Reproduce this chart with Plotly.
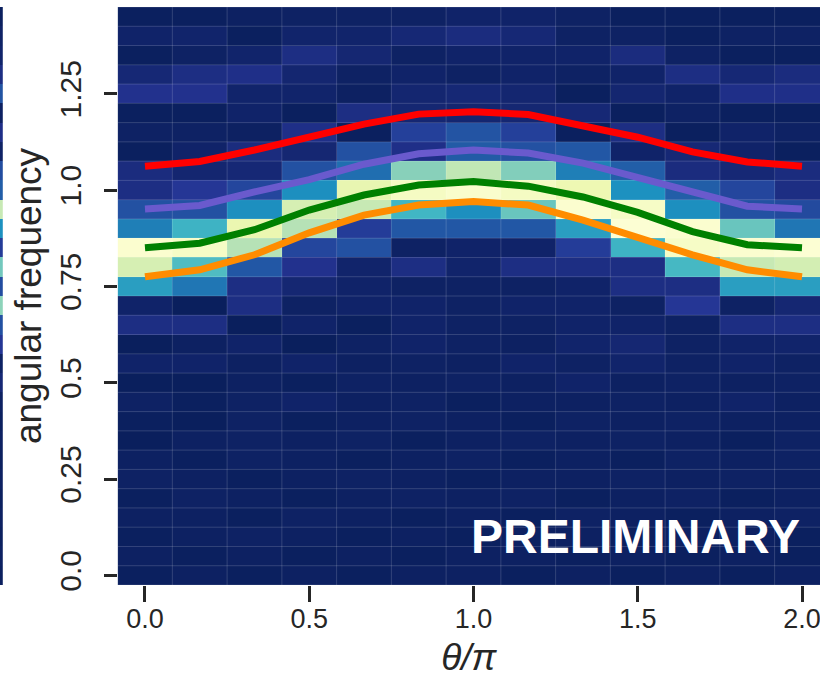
import plotly.graph_objects as go

# ---------------- data ----------------
theta = [k / 6 for k in range(13)]                 # theta/pi bin centres
freq = [round(0.05 * i, 2) for i in range(30)]    # angular frequency bin centres

# heat-map intensities (row = frequency bin, bottom -> top), 0..1
z_rows = [
    [0.015, 0.02, 0.015, 0.02, 0.015, 0.02, 0.02, 0.015, 0.02, 0.015, 0.02, 0.015, 0.02],   # 0.00
    [0.02, 0.015, 0.02, 0.015, 0.02, 0.015, 0.02, 0.02, 0.015, 0.02, 0.015, 0.02, 0.015],   # 0.05
    [0.015, 0.02, 0.025, 0.02, 0.015, 0.02, 0.015, 0.02, 0.02, 0.015, 0.02, 0.02, 0.015],   # 0.10
    [0.02, 0.02, 0.015, 0.025, 0.02, 0.015, 0.02, 0.015, 0.025, 0.02, 0.015, 0.02, 0.025],  # 0.15
    [0.015, 0.025, 0.02, 0.015, 0.02, 0.025, 0.02, 0.025, 0.015, 0.02, 0.025, 0.015, 0.02], # 0.20
    [0.025, 0.02, 0.015, 0.02, 0.025, 0.02, 0.015, 0.02, 0.02, 0.025, 0.02, 0.025, 0.02],  # 0.25
    [0.02, 0.015, 0.025, 0.02, 0.015, 0.02, 0.025, 0.015, 0.02, 0.015, 0.025, 0.02, 0.025], # 0.30
    [0.01, 0.02, 0.025, 0.02, 0.025, 0.015, 0.02, 0.025, 0.02, 0.025, 0.02, 0.015, 0.025],  # 0.35
    [0.015, 0.01, 0.025, 0.015, 0.02, 0.025, 0.02, 0.015, 0.025, 0.02, 0.025, 0.02, 0.02],  # 0.40
    [0.025, 0.015, 0.025, 0.035, 0.02, 0.025, 0.015, 0.02, 0.02, 0.025, 0.02, 0.035, 0.02], # 0.45
    [0.01, 0.01, 0.02, 0.015, 0.025, 0.02, 0.025, 0.02, 0.035, 0.02, 0.025, 0.02, 0.025],   # 0.50
    [0.035, 0.035, 0.02, 0.035, 0.02, 0.025, 0.02, 0.035, 0.025, 0.04, 0.025, 0.035, 0.025],# 0.55
    [0.01, 0.02, 0.035, 0.01, 0.025, 0.035, 0.025, 0.02, 0.04, 0.055, 0.025, 0.035, 0.04],  # 0.60
    [0.09, 0.09, 0.01, 0.035, 0.015, 0.035, 0.025, 0.025, 0.035, 0.035, 0.025, 0.09, 0.09], # 0.65
    [0.035, 0.01, 0.09, 0.025, 0.035, 0.035, 0.025, 0.035, 0.035, 0.025, 0.13, 0.025, 0.055],# 0.70
    [0.42, 0.31, 0.09, 0.055, 0.035, 0.025, 0.025, 0.025, 0.035, 0.09, 0.09, 0.42, 0.42],   # 0.75
    [0.80, 0.53, 0.23, 0.11, 0.04, 0.09, 0.04, 0.09, 0.09, 0.09, 0.51, 0.75, 0.79],         # 0.80
    [0.97, 0.94, 0.72, 0.18, 0.21, 0.025, 0.035, 0.035, 0.15, 0.49, 0.94, 0.97, 0.98],      # 0.85
    [0.33, 0.49, 0.87, 0.72, 0.15, 0.23, 0.23, 0.23, 0.42, 0.98, 0.97, 0.58, 0.31],         # 0.90
    [0.21, 0.21, 0.37, 0.80, 0.75, 0.50, 0.37, 0.58, 0.97, 0.94, 0.37, 0.21, 0.19],         # 0.95
    [0.09, 0.13, 0.18, 0.37, 0.86, 0.93, 0.96, 0.93, 0.88, 0.375, 0.25, 0.18, 0.09],        # 1.00
    [0.08, 0.05, 0.06, 0.21, 0.29, 0.64, 0.74, 0.63, 0.33, 0.25, 0.08, 0.06, 0.08],         # 1.05
    [0.015, 0.035, 0.08, 0.055, 0.21, 0.10, 0.24, 0.21, 0.23, 0.035, 0.06, 0.035, 0.015],   # 1.10
    [0.025, 0.025, 0.02, 0.10, 0.015, 0.16, 0.22, 0.16, 0.015, 0.09, 0.015, 0.035, 0.025],  # 1.15
    [0.015, 0.015, 0.035, 0.015, 0.09, 0.055, 0.05, 0.055, 0.06, 0.015, 0.025, 0.015, 0.015],# 1.20
    [0.11, 0.11, 0.04, 0.04, 0.02, 0.05, 0.06, 0.05, 0.015, 0.05, 0.035, 0.10, 0.10],       # 1.25
    [0.06, 0.09, 0.10, 0.05, 0.025, 0.035, 0.025, 0.035, 0.025, 0.035, 0.09, 0.06, 0.08],   # 1.30
    [0.015, 0.025, 0.04, 0.09, 0.055, 0.025, 0.035, 0.035, 0.035, 0.08, 0.025, 0.015, 0.015],# 1.35
    [0.035, 0.04, 0.015, 0.04, 0.04, 0.06, 0.08, 0.06, 0.025, 0.025, 0.015, 0.025, 0.025],  # 1.40
    [0.015, 0.015, 0.02, 0.025, 0.025, 0.025, 0.035, 0.035, 0.025, 0.015, 0.015, 0.015, 0.015],# 1.45
]

# edge of the neighbouring panel (one column visible), bottom -> top
strip_vals = [0.015, 0.02, 0.015, 0.02, 0.015, 0.02, 0.015, 0.02, 0.015, 0.02,
              0.06, 0.025, 0.13, 0.21, 0.65, 0.2, 0.6, 0.15, 0.375, 0.75,
              0.25, 0.2, 0.03, 0.1, 0.02, 0.22, 0.09, 0.04, 0.03, 0.015]

# dispersion curves
red_curve = [1.062, 1.074, 1.104, 1.139, 1.171, 1.197, 1.203, 1.196, 1.168, 1.137, 1.099, 1.073, 1.062]
purple_curve = [0.951, 0.960, 0.995, 1.027, 1.067, 1.094, 1.104, 1.096, 1.070, 1.034, 0.994, 0.958, 0.951]
green_curve = [0.850, 0.862, 0.897, 0.948, 0.987, 1.013, 1.022, 1.010, 0.982, 0.942, 0.892, 0.858, 0.850]
orange_curve = [0.775, 0.793, 0.832, 0.889, 0.935, 0.961, 0.970, 0.961, 0.922, 0.876, 0.832, 0.793, 0.775]

x_tickvals = [0, 0.5, 1.0, 1.5, 2.0]
x_ticktext = ["0.0", "0.5", "1.0", "1.5", "2.0"]
y_tickvals = [0, 0.25, 0.5, 0.75, 1.0, 1.25]
y_ticktext = ["0.0", "0.25", "0.5", "0.75", "1.0", "1.25"]

# ---------------- styling ----------------
W, H = 820, 678
YLGNBU_R = [[0.0, "#081d58"], [0.125, "#253494"], [0.25, "#225ea8"], [0.375, "#1d91c0"],
            [0.5, "#41b6c4"], [0.625, "#7fcdbb"], [0.75, "#c7e9b4"], [0.875, "#edf8b1"],
            [1.0, "#ffffd9"]]
TXT = "#262626"
FONT = "Liberation Sans, Arial, sans-serif"

dx = theta[1] - theta[0]
dy = freq[1] - freq[0]
x_lo, x_hi = theta[0] - dx / 2, theta[-1] + dx / 2
y_lo, y_hi = freq[0] - dy / 2, freq[-1] + dy / 2

fig = go.Figure()

fig.add_trace(go.Heatmap(x=theta, y=freq, z=z_rows, colorscale=YLGNBU_R, zmin=0, zmax=1,
                         showscale=False, hoverinfo="skip"))

fig.add_trace(go.Heatmap(x=[0], y=freq, z=[[v] for v in strip_vals], colorscale=YLGNBU_R,
                         zmin=0, zmax=1, showscale=False, hoverinfo="skip",
                         xaxis="x2", yaxis="y"))

# faint cell boundaries
gx, gy = [], []
for k in range(len(theta) + 1):
    xv = x_lo + k * dx
    gx += [xv, xv, None]
    gy += [y_lo, y_hi, None]
for k in range(len(freq) + 1):
    yv = y_lo + k * dy
    gx += [x_lo, x_hi, None]
    gy += [yv, yv, None]
fig.add_trace(go.Scatter(x=gx, y=gy, mode="lines", line=dict(color="rgba(255,255,255,0.16)", width=1),
                         hoverinfo="skip", showlegend=False))

for vals, col in [(red_curve, "#ff0000"), (purple_curve, "#6a5acd"),
                  (green_curve, "#008000"), (orange_curve, "#ff8c00")]:
    fig.add_trace(go.Scatter(x=theta, y=vals, mode="lines", line=dict(color=col, width=7),
                             showlegend=False, hoverinfo="skip"))

plot_left = 117.6
px_per_x = 328.5
x_right_val = (W - 145.0) / px_per_x

fig.add_annotation(text="<b>PRELIMINARY</b>", xref="paper", yref="paper",
                   x=(805 - plot_left) / (W - plot_left), y=(585 - 536) / 578,
                   xanchor="right", yanchor="middle", showarrow=False,
                   font=dict(family=FONT, size=48, color="white"))

fig.update_layout(
    width=W, height=H,
    margin=dict(l=0, r=0, t=7, b=93, pad=0),
    paper_bgcolor="white", plot_bgcolor="white",
    font=dict(family=FONT, color=TXT),
    showlegend=False,
    xaxis=dict(domain=[plot_left / W, 1], range=[x_lo, x_right_val],
               tickvals=x_tickvals, ticktext=x_ticktext, ticks="outside",
               ticklen=16, tickwidth=3, tickcolor=TXT, showgrid=False, zeroline=False,
               showline=False, tickfont=dict(size=27, color=TXT, family=FONT),
               ticklabeloverflow="allow", ticklabelstandoff=-6,
               title=dict(text="<i>θ/π</i>", font=dict(size=37, color=TXT, family=FONT), standoff=12)),
    yaxis=dict(range=[y_lo, y_hi], tickvals=y_tickvals, ticktext=y_ticktext,
               ticks="outside", ticklen=13, tickwidth=3, tickcolor=TXT, tickangle=-90,
               showgrid=False, zeroline=False, showline=False,
               tickfont=dict(size=30, color=TXT, family=FONT), ticklabelstandoff=11,
               title=dict(text="angular frequency", font=dict(size=37, color=TXT, family=FONT),
                          standoff=0)),
    xaxis2=dict(domain=[0, 0.0034], range=[-0.5, 0.5], anchor="y", visible=False,
                showgrid=False, zeroline=False),
)

fig.write_html("out.html")
